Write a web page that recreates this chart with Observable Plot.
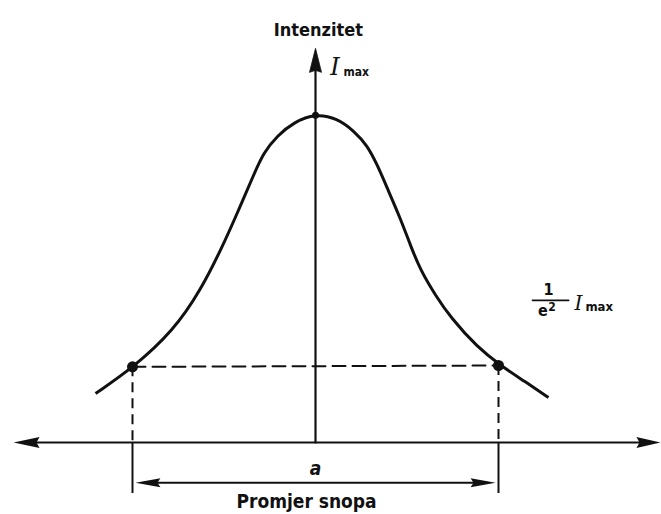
<!DOCTYPE html>
<html>
<head>
<meta charset="utf-8">
<script src="https://cdn.jsdelivr.net/npm/d3@7"></script>
<script src="https://cdn.jsdelivr.net/npm/@observablehq/plot@0.6"></script>
<style>
  html, body { margin: 0; padding: 0; background: #fff; }
</style>
</head>
<body>
<div id="chart"></div>
<script>
// Beam profile: position across the beam (in beam radii) and relative intensity (I / Imax)
const profileX = [-1.202, -0.995, -0.776, -0.628, -0.508, -0.426, -0.339, -0.284, -0.208, -0.120, 0,
                  0.120, 0.208, 0.284, 0.339, 0.393, 0.464, 0.519, 0.574, 0.656, 0.738, 0.885, 1.011, 1.137, 1.273];
const profileI = [0.149, 0.228, 0.340, 0.462, 0.596, 0.699, 0.812, 0.881, 0.933, 0.973, 1.0,
                  0.985, 0.948, 0.903, 0.842, 0.772, 0.681, 0.599, 0.523, 0.447, 0.380, 0.289, 0.234, 0.188, 0.137];

// Beam edges where intensity has fallen to 1/e² of Imax
const edgeX = [-1, 1];
const edgeI = [0.230, 0.234];

// Axis extents (arrow tips)
const axisX = [-1.65, 1.885];
const axisTopI = 1.198;
const dimensionI = -0.122;   // level of the "a" dimension arrow
const extensionBottomI = -0.155;

// Texts
const yLabel = "Intenzitet";
const xLabel = "Promjer snopa";
const dimLabel = "a";
const maxSymbol = "I";
const maxSub = "max";

const ink = "#111";
const font = "'DejaVu Sans Condensed', 'DejaVu Sans', sans-serif";
const serif = "'DejaVu Serif', 'Liberation Serif', serif";

// filled arrowhead symbol, tip at the anchor, pointing at angle (degrees, 0 = right, -90 = up)
function head(angle, L, W, notch) {
  const a = angle * Math.PI / 180, c = Math.cos(a), s = Math.sin(a);
  const pts = [[0, 0], [-L, -W], [-L + notch, 0], [-L, W]].map(([x, y]) => [x * c - y * s, x * s + y * c]);
  return {
    draw(ctx) {
      ctx.moveTo(pts[0][0], pts[0][1]);
      ctx.lineTo(pts[1][0], pts[1][1]);
      ctx.lineTo(pts[2][0], pts[2][1]);
      ctx.lineTo(pts[3][0], pts[3][1]);
      ctx.closePath();
    }
  };
}

const profile = profileX.map((x, i) => ({x, I: profileI[i]}));
const edges = edgeX.map((x, i) => ({x, I: edgeI[i]}));

const chart = Plot.plot({
  width: 661,
  height: 514,
  margin: 0,
  x: {type: "linear", domain: [-315 / 183, 346 / 183], range: [0, 661], axis: null},
  y: {type: "linear", domain: [-72 / 329, 442 / 329], range: [514, 0], axis: null},
  style: {background: "#fff", overflow: "visible"},
  marks: [
    // horizontal axis
    Plot.line([{x: axisX[0] + 0.06, I: 0}, {x: axisX[1] - 0.06, I: 0}], {x: "x", y: "I", stroke: ink, strokeWidth: 2.2}),
    Plot.dot([{x: axisX[0], I: 0}], {x: "x", y: "I", symbol: head(180, 26, 5.5, 3), fill: ink, stroke: "none"}),
    Plot.dot([{x: axisX[1], I: 0}], {x: "x", y: "I", symbol: head(0, 24, 5.5, 3), fill: ink, stroke: "none"}),
    // vertical axis
    Plot.line([{x: 0, I: 0}, {x: 0, I: axisTopI - 0.04}], {x: "x", y: "I", stroke: ink, strokeWidth: 2.2}),
    Plot.dot([{x: 0, I: axisTopI}], {x: "x", y: "I", symbol: head(-90, 24, 6, 2), fill: ink, stroke: ink, strokeWidth: 0.8}),
    // dashed level line between edges
    Plot.line(edges, {x: "x", y: "I", stroke: ink, strokeWidth: 2, strokeDasharray: "13,7"}),
    // dashed verticals down to the axis
    Plot.ruleX(edges, {x: "x", y1: "I", y2: 0, stroke: ink, strokeWidth: 2, strokeDasharray: "10,6"}),
    // solid extension lines below the axis
    Plot.ruleX(edges, {x: "x", y1: 0, y2: extensionBottomI, stroke: ink, strokeWidth: 2}),
    // dimension arrow "a"
    Plot.line([{x: edgeX[0] + 0.06, I: dimensionI}, {x: edgeX[1] - 0.06, I: dimensionI}], {x: "x", y: "I", stroke: ink, strokeWidth: 2}),
    Plot.dot([{x: edgeX[0] + 0.016, I: dimensionI}], {x: "x", y: "I", symbol: head(180, 25, 4.5, 3), fill: ink, stroke: "none"}),
    Plot.dot([{x: edgeX[1] - 0.016, I: dimensionI}], {x: "x", y: "I", symbol: head(0, 25, 4.5, 3), fill: ink, stroke: "none"}),
    // profile curve
    Plot.line(profile, {x: "x", y: "I", curve: "basis", stroke: ink, strokeWidth: 3, strokeLinecap: "butt"}),
    // edge points and peak
    Plot.dot(edges, {x: "x", y: "I", r: 5.5, fill: ink, stroke: "none"}),
    Plot.dot([{x: 0, I: 0.995}], {x: "x", y: "I", r: 3.5, fill: ink, stroke: "none"}),
    // labels
    Plot.text([yLabel], {x: 0.016, y: 1.237, text: d => d, fontFamily: font, fontWeight: "bold", fontSize: 18, fill: ink, textAnchor: "middle", lineAnchor: "bottom"}),
    Plot.text([maxSymbol], {x: 0.08, y: 1.116, text: d => d, fontFamily: serif, fontStyle: "italic", fontSize: 24, fill: ink, textAnchor: "start", lineAnchor: "bottom"}),
    Plot.text([maxSub], {x: 0.153, y: 1.113, text: d => d, fontFamily: font, fontWeight: "bold", fontSize: 12, fill: ink, textAnchor: "start", lineAnchor: "bottom"}),
    Plot.text([dimLabel], {x: 0, y: -0.100, text: d => d, fontFamily: font, fontWeight: "bold", fontStyle: "italic", fontSize: 19, fill: ink, textAnchor: "middle", lineAnchor: "bottom"}),
    Plot.text([xLabel], {x: -0.049, y: -0.198, text: d => d, fontFamily: font, fontWeight: "bold", fontSize: 19, fill: ink, textAnchor: "middle", lineAnchor: "bottom"}),
    // 1/e² Imax
    Plot.text(["1"], {x: 1.273, y: 0.447, text: d => d, fontFamily: font, fontWeight: "bold", fontSize: 16, fill: ink, textAnchor: "middle", lineAnchor: "bottom"}),
    Plot.line([{x: 1.186, I: 0.432}, {x: 1.383, I: 0.432}], {x: "x", y: "I", stroke: ink, strokeWidth: 1.8}),
    Plot.text(["e"], {x: 1.242, y: 0.383, text: d => d, fontFamily: font, fontWeight: "bold", fontSize: 16, fill: ink, textAnchor: "middle", lineAnchor: "bottom"}),
    Plot.text(["2"], {x: 1.292, y: 0.401, text: d => d, fontFamily: font, fontWeight: "bold", fontSize: 12, fill: ink, textAnchor: "middle", lineAnchor: "bottom"}),
    Plot.text([maxSymbol], {x: 1.415, y: 0.404, text: d => d, fontFamily: serif, fontStyle: "italic", fontSize: 20, fill: ink, textAnchor: "start", lineAnchor: "bottom"}),
    Plot.text([maxSub], {x: 1.475, y: 0.401, text: d => d, fontFamily: font, fontWeight: "bold", fontSize: 13, fill: ink, textAnchor: "start", lineAnchor: "bottom"})
  ]
});
document.getElementById("chart").appendChild(chart);
</script>
</body>
</html>
